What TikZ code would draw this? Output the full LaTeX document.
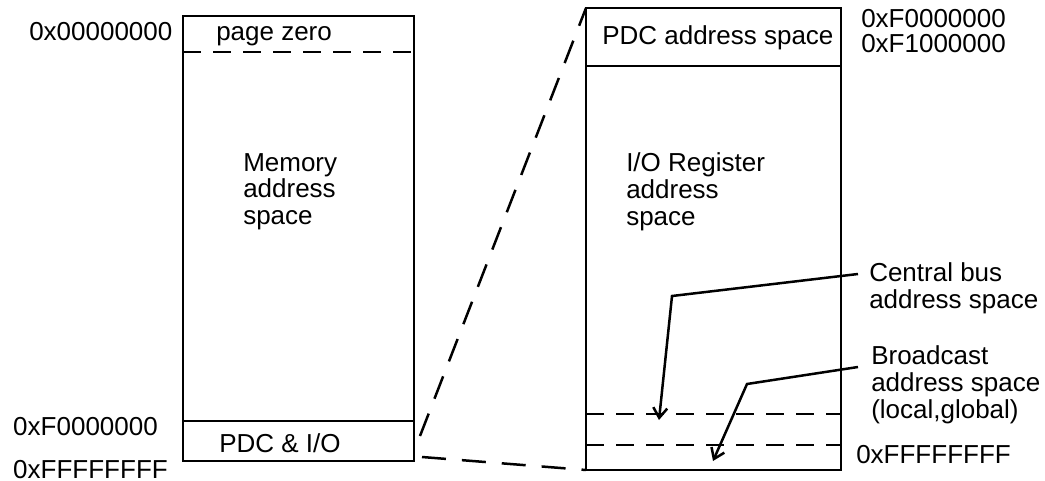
\documentclass[tikz,border=0pt]{standalone}
\usepackage{fontspec}
\setmainfont{Liberation Sans}
\usetikzlibrary{positioning,arrows.meta}

\tikzset{
  txt/.style={anchor=base west, inner sep=0pt, align=left, font=\fontsize{13}{13.5}\selectfont},
  cut/.style={dash pattern=on 12pt off 8pt},
  sub/.style={dash pattern=on 9pt off 6pt},
  lead/.style={-{Straight Barb[length=5pt,width=7pt]}}
}

\begin{document}
\begin{tikzpicture}[x=0.5pt,y=-0.5pt,line width=1.25pt]
	\useasboundingbox (0,0) rectangle (1045,481);
	% whole address space
	\draw (183,16) rectangle (414,461);
	\draw[sub] (183,52) -- (414,52);
	\draw (183,421) -- (414,421);
	\node[txt] (top) at (28,41) {0x00000000};
	\node[txt] (pz) at (215,41) {page zero};
	\node[txt] (mem) at (242,225) {Memory\\address\\space};
	\node[txt] (iostart) at (12,435) {0xF0000000};
	\node[txt] (pdcio) at (218,452) {PDC \& I/O};
	\node[txt] (bot) at (12,478) {0xFFFFFFFF};
	% zoomed I/O space
	\draw (586,8) rectangle (841,470);
	\draw (586,66) -- (841,66);
	\draw[sub] (586,414) -- (841,414);
	\draw[sub] (586,445) -- (841,445);
	\node[txt] (pdc) at (601,45) {PDC address space};
	\node[txt] (f0) at (860,28) {0xF0000000};
	\node[txt] (f1) at (860,53) {0xF1000000};
	\node[txt] (ioreg) at (625,226) {I/O Register\\address\\space};
	\node[txt] (cbus) at (868,308) {Central bus\\address space};
	\node[txt] (bcast) at (870,418) {Broadcast\\address space\\(local,global)};
	\node[txt] (ff) at (855,463) {0xFFFFFFFF};
	% zoom lines
	\coordinate (a1) at (420,436);
	\coordinate (a2) at (586,8);
	\coordinate (b1) at (422,457);
	\coordinate (b2) at (586,470);
	\draw[cut] (a1) -- (a2);
	\draw[cut] (b1) -- (b2);
	% leaders
	\coordinate (c0) at (858,274);
	\coordinate (c1) at (672,296);
	\coordinate (c2) at (659,420);
	\coordinate (d0) at (858,367);
	\coordinate (d1) at (747,384);
	\coordinate (d2) at (713,461);
	\draw[lead] (c0) -- (c1) -- (c2);
	\draw[lead] (d0) -- (d1) -- (d2);
\end{tikzpicture}
\end{document}
